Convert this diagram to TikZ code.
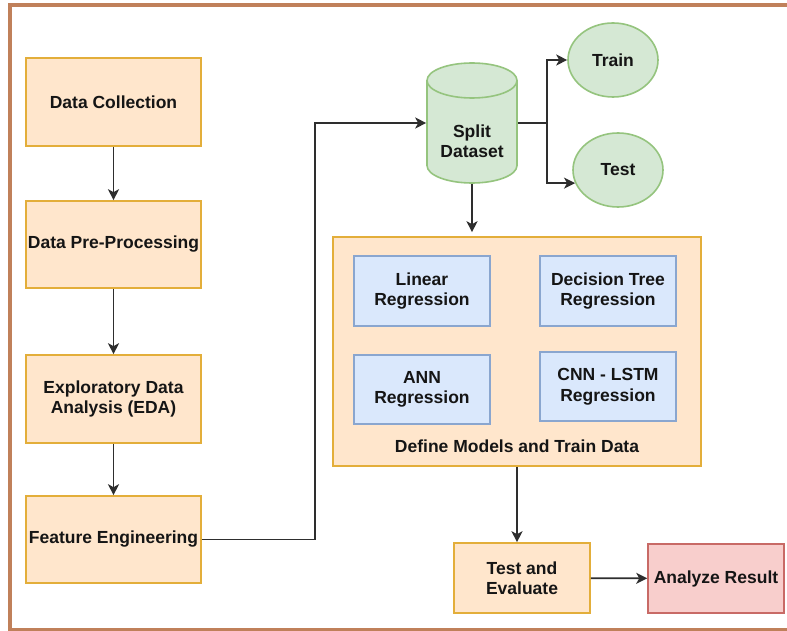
\documentclass[tikz,border=0pt]{standalone}
\usepackage{fontspec}
\setmainfont{Liberation Sans}
\usetikzlibrary{arrows.meta,calc,shapes.geometric}
\definecolor{framebrown}{HTML}{C0805A}
\definecolor{orfill}{HTML}{FFE6CC}
\definecolor{ordraw}{HTML}{E3AE3A}
\definecolor{blfill}{HTML}{DAE8FC}
\definecolor{bldraw}{HTML}{8AA6CF}
\definecolor{grfill}{HTML}{D5E8D4}
\definecolor{grdraw}{HTML}{95C47E}
\definecolor{rdfill}{HTML}{F8CECC}
\definecolor{rddraw}{HTML}{C86A66}
\definecolor{linecol}{HTML}{2E2E2E}
\definecolor{txt}{HTML}{151515}
\tikzset{
  base/.style={font=\fontsize{17.5}{20.5}\selectfont\bfseries, text=txt, align=center, inner sep=1pt, line width=1.6pt},
  obox/.style={base, draw=ordraw, fill=orfill, minimum width=175pt, minimum height=88pt},
  bbox/.style={base, draw=bldraw, fill=blfill, minimum width=136pt, minimum height=70pt},
  sbox/.style={base, draw=ordraw, fill=orfill, minimum width=136pt, minimum height=70pt},
  rbox/.style={base, draw=rddraw, fill=rdfill, minimum width=136pt, minimum height=69pt},
  gell/.style={base, ellipse, draw=grdraw, fill=grfill, minimum width=90pt, minimum height=74pt},
  arr/.style={draw=linecol, line width=1.7pt, -{Stealth[length=11pt,width=11pt,inset=3pt]}},
  ln/.style={draw=linecol, line width=1.9pt}
}
\begin{document}
\begin{tikzpicture}[x=1pt,y=-1pt]
\useasboundingbox (0,0) rectangle (787,631);
\fill[white] (0,0) rectangle (787,631);
% outer frame
\draw[framebrown, line width=4pt] (790,5) -- (10,5) -- (10,629.5) -- (790,629.5);

% left column
\node[obox] (dc) at (113.5,102) {Data Collection};
\node[obox, minimum height=87pt] (dpp) at (113.5,244.5) {Data Pre-Processing};
\node[obox] (eda) at (113.5,399) {Exploratory Data\\Analysis (EDA)};
\node[obox, minimum height=87pt] (fe) at (113.5,539.5) {Feature Engineering};

% cylinder
\path[fill=grfill, draw=grdraw, line width=1.6pt]
  (427,80.5) -- (427,165.5)
  .. controls (427,175.2) and (447.1,183) .. (472,183)
  .. controls (496.9,183) and (517,175.2) .. (517,165.5)
  -- (517,80.5)
  .. controls (517,70.8) and (496.9,63) .. (472,63)
  .. controls (447.1,63) and (427,70.8) .. (427,80.5) -- cycle;
\draw[grdraw, line width=1.6pt] (427,80.5) .. controls (427,90.2) and (447.1,98) .. (472,98)
  .. controls (496.9,98) and (517,90.2) .. (517,80.5);
\node[base, minimum width=90pt, minimum height=120pt,
  label={[base, yshift=-18pt]center:Split\\Dataset}] (split) at (472,123) {};

% train / test
\node[gell] (train) at (613,60) {Train};
\node[gell] (test) at (618,170) {Test};

% models box
\node[obox, minimum width=368pt, minimum height=229pt,
  label={[base, anchor=base, yshift=14pt]south:Define Models and Train Data}] (models) at (517,351.5) {};
\node[bbox] (lin) at (422,291) {Linear\\Regression};
\node[bbox] (dt) at (608,291) {Decision Tree\\Regression};
\node[bbox, minimum height=69pt] (ann) at (422,389.5) {ANN\\Regression};
\node[bbox, minimum height=69pt] (cnn) at (608,386.5) {CNN - LSTM\\Regression};

% bottom
\node[sbox] (te) at (522,578) {Test and\\Evaluate};
\node[rbox] (ar) at (716,578.5) {Analyze Result};

% connectors
\draw[arr] (dc) -- (dpp);
\draw[arr] (dpp) -- (eda);
\draw[arr] (eda) -- (fe);
\draw[arr] (fe.east) -- ++(113,0) |- (split.west);
\draw[ln] (split.east) -- ++(29,0) coordinate (sj);
\draw[arr] (sj) |- (train.west);
\draw[arr] (sj) |- (test.197);
\draw[arr] (split.south) -- ($(split.south |- models.north)+(0,-4)$);
\draw[arr] (models.south) -- (models.south |- te.north);
\draw[arr] (te) -- (ar);
\end{tikzpicture}
\end{document}
